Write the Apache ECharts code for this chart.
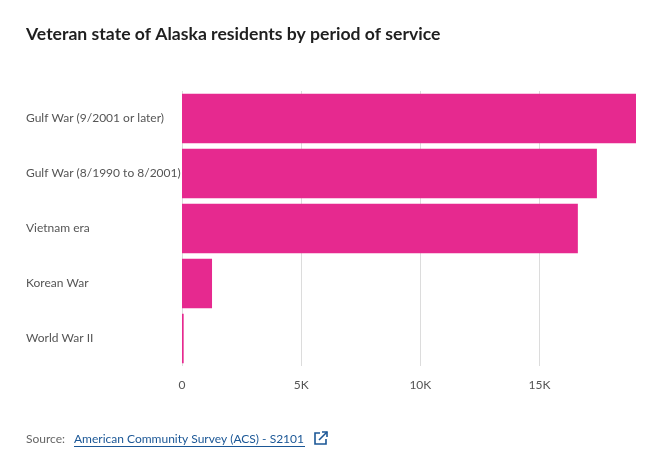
<!DOCTYPE html>
<html>
<head>
<meta charset="utf-8">
<script src="https://cdn.jsdelivr.net/npm/echarts@6/dist/echarts.min.js"></script>
<style>
  html, body { margin: 0; padding: 0; background: #fff; }
  #chart { width: 653px; height: 453px; }
</style>
</head>
<body>
<div id="chart"></div>
<script>
var categories = [
    'Gulf War (9/2001 or later)',
    'Gulf War (8/1990 to 8/2001)',
    'Vietnam era',
    'Korean War',
    'World War II'
];
var veterans = [19050, 17410, 16610, 1260, 70];
var tickValues = [0, 5000, 10000, 15000];

var barColor = '#e6298f';
var linkColor = '#1b5796';
var font = 'Lato, "Noto Sans", sans-serif';

var myChart = echarts.init(document.getElementById('chart'));

var option = {
    backgroundColor: '#fff',
    textStyle: { fontFamily: font },
    title: {
        text: 'Veteran state of Alaska residents by period of service',
        left: 26,
        top: 25,
        padding: 0,
        textStyle: {
            fontFamily: font,
            fontSize: 17.6,
            fontWeight: 'bold',
            color: '#1f1f1f'
        }
    },
    grid: {
        left: 182,
        right: 17,
        top: 91,
        bottom: 87,
        containLabel: false
    },
    xAxis: {
        type: 'value',
        min: 0,
        max: 'dataMax',
        interval: 5000,
        axisLine: { show: false },
        axisTick: { show: false },
        splitLine: {
            showMaxLine: false,
            lineStyle: { color: '#dcdcdc', width: 1 }
        },
        axisLabel: {
            color: '#555',
            fontSize: 12,
            margin: 13,
            showMaxLabel: false,
            formatter: function (v) {
                if (tickValues.indexOf(v) < 0) return '';
                return v === 0 ? '0' : (v / 1000) + 'K';
            }
        }
    },
    yAxis: {
        type: 'category',
        inverse: true,
        data: categories,
        axisLine: { show: false },
        axisTick: { show: false },
        axisLabel: {
            color: '#555',
            fontSize: 12,
            align: 'left',
            margin: 156,
            padding: [3, 0, 0, 0]
        }
    },
    series: [
        {
            name: 'Veterans',
            type: 'bar',
            data: veterans,
            barCategoryGap: '10%',
            itemStyle: { color: barColor },
            silent: true
        }
    ],
    graphic: [
        {
            type: 'text',
            left: 26,
            top: 433,
            style: { text: 'Source:', fill: '#666', fontSize: 12, fontFamily: font }
        },
        {
            type: 'text',
            left: 74,
            top: 433,
            style: {
                text: 'American Community Survey (ACS) - S2101',
                fill: linkColor,
                fontSize: 12,
                fontFamily: font
            }
        },
        {
            type: 'line',
            shape: { x1: 74, y1: 446.5, x2: 305, y2: 446.5 },
            style: { stroke: linkColor, lineWidth: 1 }
        },
        {
            type: 'polyline',
            shape: { points: [[320, 433], [315, 433], [315, 444], [326, 444], [326, 439]] },
            style: { stroke: linkColor, lineWidth: 1.6, fill: null }
        },
        {
            type: 'polyline',
            shape: { points: [[322, 432], [327, 432], [327, 437]] },
            style: { stroke: linkColor, lineWidth: 1.6, fill: null }
        },
        {
            type: 'line',
            shape: { x1: 327, y1: 432, x2: 319, y2: 440 },
            style: { stroke: linkColor, lineWidth: 1.6 }
        }
    ]
};

myChart.setOption(option, true);
</script>
</body>
</html>
